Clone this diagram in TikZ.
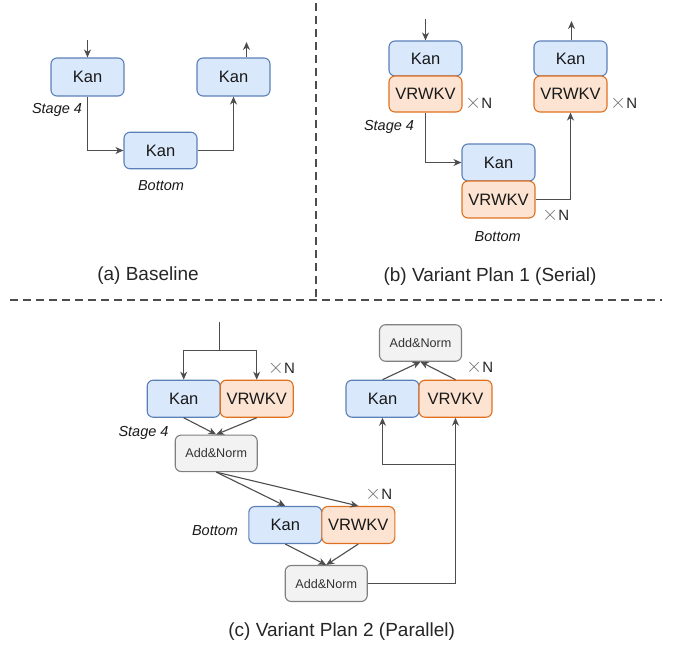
\documentclass[tikz,border=0pt]{standalone}
\usepackage{fontspec}
\setmainfont{Liberation Sans}
\usetikzlibrary{arrows.meta}
\definecolor{kanfill}{HTML}{DAE8FC}
\definecolor{kanline}{HTML}{5B80B8}
\definecolor{rwkvfill}{HTML}{FDE4D2}
\definecolor{rwkvline}{HTML}{E0701F}
\definecolor{normfill}{HTML}{F2F2F2}
\definecolor{normline}{HTML}{808080}
\definecolor{wire}{HTML}{4D4D4D}
\newcommand{\xN}{{\fontsize{20}{20}\selectfont\color{black!55}$\times$}N}
\tikzset{
	block/.style={rounded corners=6pt, line width=1.1pt, inner sep=0pt, minimum width=73pt, minimum height=36.5pt, text=black!90, font=\fontsize{16.5}{19}\selectfont},
	kanbox/.style={block, fill=kanfill, draw=kanline},
	rwkvbox/.style={block, fill=rwkvfill, draw=rwkvline},
	normbox/.style={block, fill=normfill, draw=normline, minimum width=82pt, text=black!80, font=\fontsize{12.6}{15}\selectfont},
	link/.style={draw=wire, line width=1.1pt, -{Stealth[length=8pt,width=7pt,inset=2.5pt]}},
	tag/.style={font=\fontsize{14.5}{17}\itshape, text=black!90},
	times/.style={anchor=west, inner sep=0pt, font=\fontsize{15}{17}\selectfont, text=black!85},
	caption/.style={font=\fontsize{19}{22}\selectfont, text=black!85},
	divider/.style={draw=wire, line width=1.8pt, dash pattern=on 8pt off 5pt}
}
\begin{document}
\begin{tikzpicture}[x=1pt, y=-1pt]
	\useasboundingbox (0,0) rectangle (675,648);
	\draw[divider] (316,3) -- (316,297);
	\draw[divider] (10,300) -- (662,300);

	\node[kanbox, minimum height=38pt] (a1) at (87.5,77) {Kan};
	\node[kanbox] (a2) at (160.5,150.5) {Kan};
	\node[kanbox, minimum height=38pt] (a3) at (233.5,77) {Kan};
	\coordinate (ain) at (87.5,40);
	\coordinate (aout) at (246.5,42);
	\draw[link] (ain) -- (a1.north);
	\draw[link] (a1.south) |- (a2.west);
	\draw[link] (a2.east) -| (a3.south);
	\draw[link] (aout |- a3.north) -- (aout);
	\node[tag] (astage) at (57,110) {Stage 4};
	\node[tag] (abottom) at (161,186) {Bottom};
	\node[caption] (acap) at (148,276) {(a) Baseline};

	\node[kanbox, minimum height=35pt] (b1) at (425.5,58.5) {Kan};
	\node[rwkvbox, minimum height=36pt] (b1v) at (425.5,94) {VRWKV};
	\node[kanbox, minimum height=37pt] (b2) at (498.5,162.5) {Kan};
	\node[rwkvbox, minimum height=37pt] (b2v) at (498.5,199.5) {VRWKV};
	\node[kanbox, minimum height=35pt] (b3) at (570.5,58.5) {Kan};
	\node[rwkvbox, minimum height=36pt] (b3v) at (570.5,94) {VRWKV};
	\coordinate (bin) at (425.5,19);
	\coordinate (bout) at (571.5,21);
	\draw[link] (bin) -- (b1.north);
	\draw[link] (b1v.south) |- (b2.west);
	\draw[link] (b2v.east) -| (b3v.south);
	\draw[link] (bout |- b3.north) -- (bout);
	\node[times] (bn1) at (465,103) {\xN};
	\node[times] (bn2) at (542,215) {\xN};
	\node[times] (bn3) at (610,103) {\xN};
	\node[tag] (bstage) at (389,127) {Stage 4};
	\node[tag] (bbottom) at (497.7,237) {Bottom};
	\node[caption] (bcap) at (490,277) {(b) Variant Plan 1 (Serial)};

	\node[kanbox, minimum height=37pt] (c1) at (183.7,398.7) {Kan};
	\node[rwkvbox, minimum height=37pt] (c1v) at (256.7,398.7) {VRWKV};
	\node[normbox] (c1n) at (216.2,453.3) {Add\&Norm};
	\node[kanbox, minimum height=37pt] (c2) at (285.3,525) {Kan};
	\node[rwkvbox, minimum height=37pt] (c2v) at (358.3,525) {VRWKV};
	\node[normbox, minimum height=36pt] (c2n) at (326.2,583.5) {Add\&Norm};
	\node[kanbox, minimum height=37pt] (c3) at (382.5,398.7) {Kan};
	\node[rwkvbox, minimum height=37pt] (c3v) at (455.5,398.7) {VRVKV};
	\node[normbox] (c3n) at (420.5,343) {Add\&Norm};
	\coordinate (cin) at (219.5,321.7);
	\coordinate (csplit) at (219.5,350.5);
	\coordinate (cbranch) at (455.5,464.5);
	\draw[draw=wire, line width=1.1pt] (cin) -- (csplit);
	\draw[link] (csplit) -| (c1.north);
	\draw[link] (csplit) -| (c1v.north);
	\draw[link] (c1.south) -- (c1n.north);
	\draw[link] (c1v.south) -- (c1n.north);
	\draw[link] (c1n.south) -- (c2.north);
	\draw[link] (c1n.south) -- (c2v.north);
	\draw[link] (c2.south) -- (c2n.north);
	\draw[link] (c2v.south) -- (c2n.north);
	\draw[link] (c2n.east) -| (c3v.south);
	\draw[link] (cbranch) -| (c3.south);
	\draw[link] (c3.north) -- (c3n.south);
	\draw[link] (c3v.north) -- (c3n.south);
	\node[times] (cn1) at (267.7,368.3) {\xN};
	\node[times] (cn2) at (365,494.3) {\xN};
	\node[times] (cn3) at (466,367.7) {\xN};
	\node[tag] (cstage) at (143.5,433.3) {Stage 4};
	\node[tag] (cbottom) at (215,530.7) {Bottom};
	\node[caption] (ccap) at (341.7,631.7) {(c) Variant Plan 2 (Parallel)};
\end{tikzpicture}
\end{document}
